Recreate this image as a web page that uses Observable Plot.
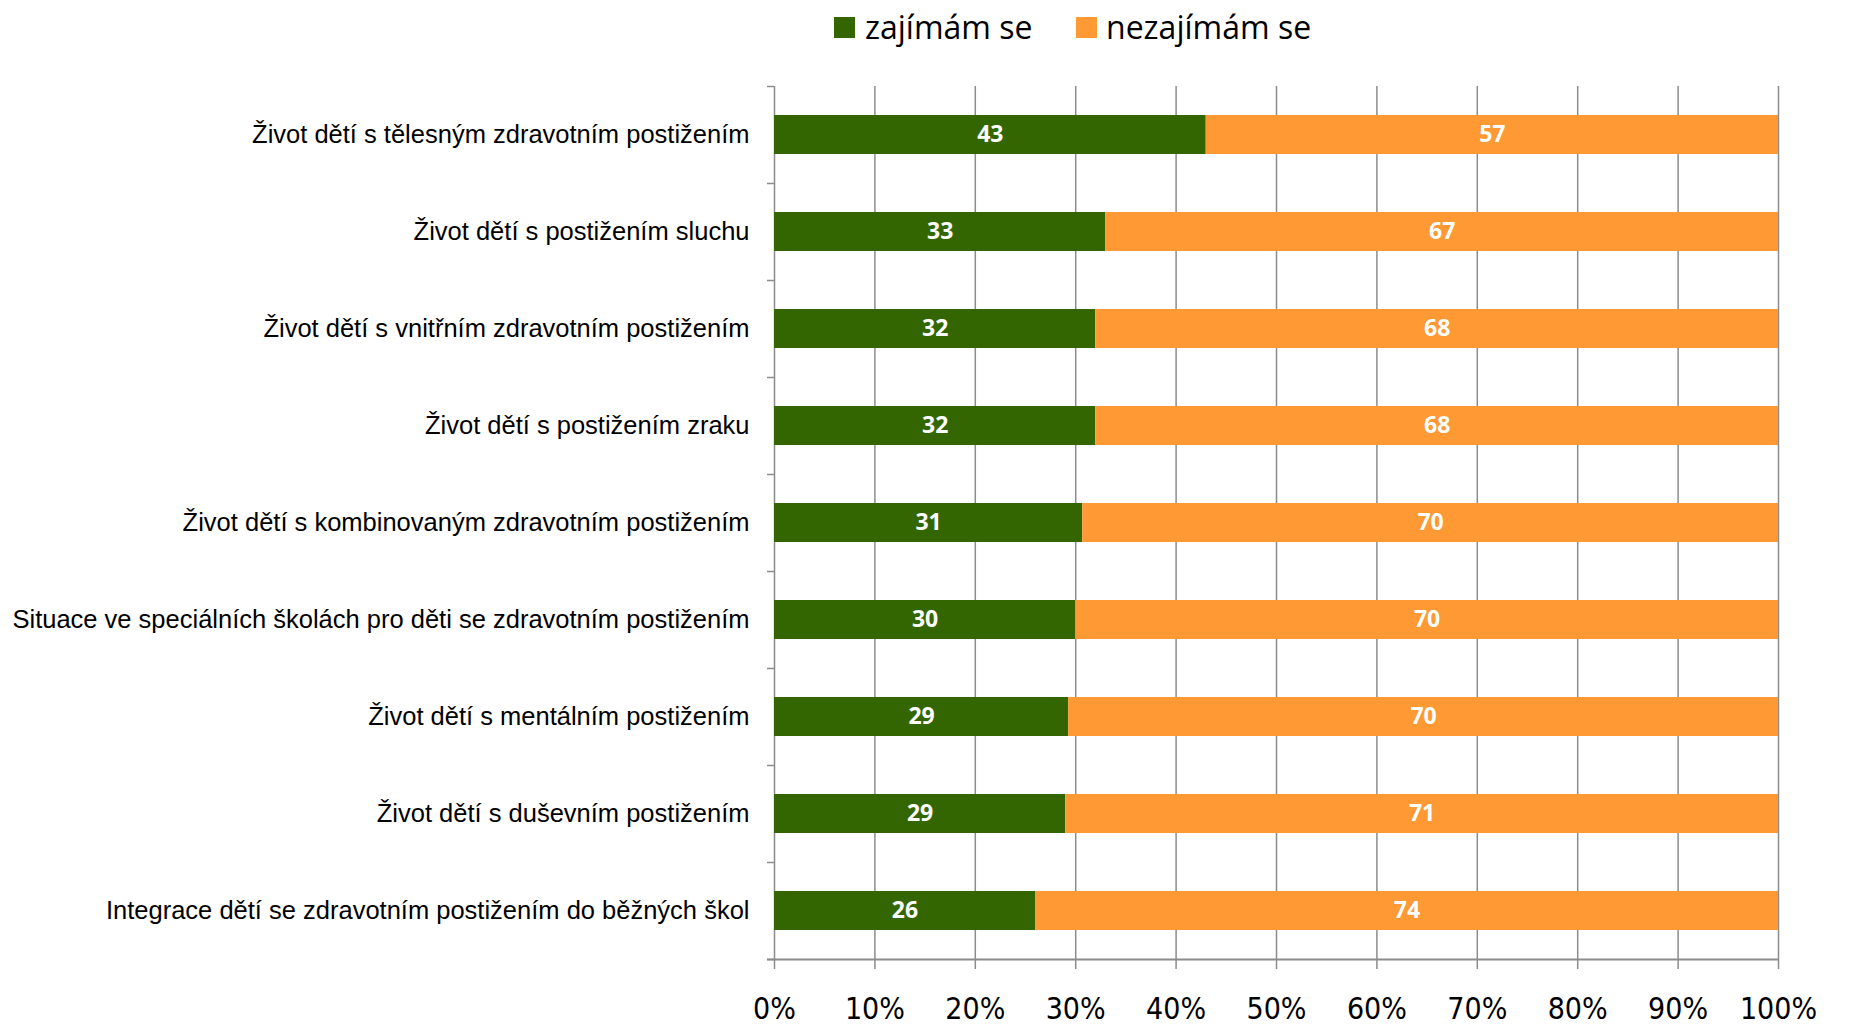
<!DOCTYPE html>
<html>
<head>
<meta charset="utf-8">
<script src="https://cdn.jsdelivr.net/npm/d3@7"></script>
<script src="https://cdn.jsdelivr.net/npm/@observablehq/plot@0.6"></script>
<style>
  html, body { margin: 0; padding: 0; background: #fff; }
  #wrap { position: relative; width: 1858px; height: 1024px; }
  #legend { position: absolute; top: 0; left: 0; width: 1858px; height: 60px; font-family: "Open Sans", sans-serif; font-size: 32px; color: #000; }
  .sw { position: absolute; width: 21px; height: 21px; top: 17px; }
  .lt { position: absolute; top: 7px; line-height: 40px; white-space: nowrap; }
</style>
</head>
<body>
<div id="wrap">
  <div id="chart"></div>
  <div id="legend"></div>
</div>
<script>
const categories = [
  "Život dětí s tělesným zdravotním postižením",
  "Život dětí s postižením sluchu",
  "Život dětí s vnitřním zdravotním postižením",
  "Život dětí s postižením zraku",
  "Život dětí s kombinovaným zdravotním postižením",
  "Situace ve speciálních školách pro děti se zdravotním postižením",
  "Život dětí s mentálním postižením",
  "Život dětí s duševním postižením",
  "Integrace dětí se zdravotním postižením do běžných škol"
];
const seriesNames = ["zajímám se", "nezajímám se"];
const zajimam = [43, 33, 32, 32, 31, 30, 29, 29, 26];
const nezajimam = [57, 67, 68, 68, 70, 70, 70, 71, 74];
const xTicks = [0, 0.1, 0.2, 0.3, 0.4, 0.5, 0.6, 0.7, 0.8, 0.9, 1.0];
const colors = ["#336600", "#FF9933"];

const data = [];
categories.forEach((c, i) => {
  data.push({cat: c, series: seriesNames[0], value: zajimam[i]});
  data.push({cat: c, series: seriesNames[1], value: nezajimam[i]});
});

const W = 1858, H = 1024, mTop = 86, mBottom = 65, mLeft = 774, mRight = 80;
const step = (H - mTop - mBottom) / categories.length;
const grid = "#8c8c8c";

const chart = Plot.plot({
  width: W,
  height: H,
  marginTop: mTop,
  marginBottom: mBottom,
  marginLeft: mLeft,
  marginRight: mRight,
  style: {background: "#fff", overflow: "visible"},
  x: {domain: [0, 1], ticks: xTicks},
  y: {domain: categories, paddingInner: 0.6, paddingOuter: 0.3},
  color: {domain: seriesNames, range: colors},
  marks: [
    Plot.ruleX(xTicks, {stroke: grid, strokeWidth: 1.5}),
    Plot.barX(data, Plot.stackX({x: "value", y: "cat", fill: "series", offset: "normalize", order: seriesNames})),
    Plot.textX(data, Plot.stackX({x: "value", y: "cat", z: "series", offset: "normalize", order: seriesNames, text: d => String(d.value), fill: "#fff", fontWeight: "bold", fontSize: 23, fontFamily: "Open Sans, sans-serif"})),
    Plot.ruleY(categories, {y: d => d, x1: -0.007, x2: 0, dy: step / 2, stroke: grid, strokeWidth: 1.5}),
    Plot.ruleY([categories[0]], {y: d => d, x1: -0.007, x2: 0, dy: -step / 2, stroke: grid, strokeWidth: 1.5}),
    Plot.ruleY([categories[categories.length - 1]], {y: d => d, x1: -0.007, x2: 1, dy: step / 2, stroke: grid, strokeWidth: 2}),
    Plot.axisX({ticks: xTicks, tickFormat: d3.format(".0%"), tickSize: 10, stroke: grid, strokeWidth: 1.5, tickPadding: 28, fontSize: 30, fontFamily: "Liberation Sans Narrow, DejaVu Sans Condensed, sans-serif", fill: "#000", label: null}),
    Plot.axisY({tickSize: 0, tickPadding: 25, fontSize: 25.5, fontFamily: "Liberation Sans, Arial, sans-serif", fill: "#000", label: null})
  ]
});
document.getElementById("chart").appendChild(chart);

const legend = document.getElementById("legend");
const items = [{x: 834, tx: 865}, {x: 1076, tx: 1106}];
seriesNames.forEach((s, i) => {
  const sw = document.createElement("div");
  sw.className = "sw";
  sw.style.left = items[i].x + "px";
  sw.style.background = colors[i];
  legend.appendChild(sw);
  const t = document.createElement("div");
  t.className = "lt";
  t.style.left = items[i].tx + "px";
  t.textContent = s;
  legend.appendChild(t);
});
</script>
</body>
</html>
